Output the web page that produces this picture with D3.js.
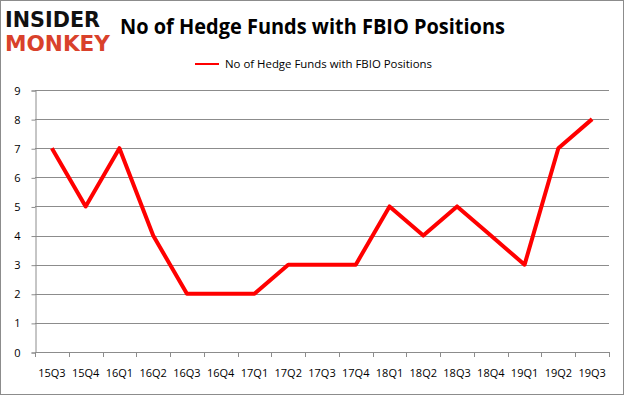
<!DOCTYPE html>
<html>
<head>
<meta charset="utf-8">
<script src="https://cdn.jsdelivr.net/npm/d3@7"></script>
<style>
  body { margin: 0; background: #fff; }
  svg { display: block; }
</style>
</head>
<body>
<div id="chart"></div>
<script>
// quarters on the x axis
var quarters = ["15Q3","15Q4","16Q1","16Q2","16Q3","16Q4","17Q1","17Q2","17Q3",
                "17Q4","18Q1","18Q2","18Q3","18Q4","19Q1","19Q2","19Q3"];
// number of hedge funds holding FBIO
var fundCounts = [7,5,7,4,2,2,2,3,3,3,5,4,5,4,3,7,8];
var yTicks = [0,1,2,3,4,5,6,7,8,9];
var title = "No of Hedge Funds with FBIO Positions";

var width = 626, height = 397;
var plot = {left: 35, right: 609, top: 90, bottom: 352};

var svg = d3.select("#chart").append("svg")
  .attr("width", width)
  .attr("height", height);

svg.append("rect")
  .attr("x", 0.5).attr("y", 0.5)
  .attr("width", width - 3).attr("height", height - 3)
  .attr("fill", "#fff")
  .attr("stroke", "#8c8c8c");

// logo
svg.append("text")
  .attr("x", 5).attr("y", 27)
  .attr("font-family", "DejaVu Sans")
  .attr("font-weight", "bold")
  .attr("font-size", 21)
  .attr("textLength", 95)
  .attr("lengthAdjust", "spacingAndGlyphs")
  .attr("fill", "#111")
  .text("INSIDER");
svg.append("text")
  .attr("x", 5).attr("y", 51)
  .attr("font-family", "DejaVu Sans")
  .attr("font-weight", "bold")
  .attr("font-size", 21)
  .attr("textLength", 105)
  .attr("lengthAdjust", "spacingAndGlyphs")
  .attr("fill", "#d9412b")
  .text("MONKEY");

svg.append("text")
  .attr("x", 120).attr("y", 34)
  .attr("font-family", "Open Sans, sans-serif")
  .attr("font-weight", "bold")
  .attr("font-size", 21)
  .attr("textLength", 385)
  .attr("lengthAdjust", "spacingAndGlyphs")
  .attr("fill", "#000")
  .text(title);

// legend
svg.append("line")
  .attr("x1", 195).attr("x2", 219)
  .attr("y1", 64).attr("y2", 64)
  .attr("stroke", "#ff0000")
  .attr("stroke-width", 2);
svg.append("text")
  .attr("x", 225).attr("y", 68)
  .attr("font-family", "Open Sans, sans-serif")
  .attr("font-size", 11.5)
  .attr("textLength", 207)
  .attr("lengthAdjust", "spacingAndGlyphs")
  .attr("fill", "#000")
  .text(title);

var x = d3.scaleBand()
  .domain(quarters)
  .range([plot.left, plot.right]);

var y = d3.scaleLinear()
  .domain([0, 9])
  .range([plot.bottom, plot.top]);

// gridlines
svg.append("g")
  .selectAll("line")
  .data(yTicks.slice(1))
  .join("line")
  .attr("x1", plot.left).attr("x2", plot.right)
  .attr("y1", function(d) { return Math.round(y(d)) + 0.5; })
  .attr("y2", function(d) { return Math.round(y(d)) + 0.5; })
  .attr("stroke", "#8c8c8c");

var yAxis = svg.append("g")
  .attr("transform", "translate(" + (plot.left + 0.5) + ",0.5)")
  .call(d3.axisLeft(y).tickValues(yTicks).tickSize(4).tickPadding(11)
    .tickFormat(d3.format("d")));
yAxis.select(".domain").attr("stroke", "#8c8c8c");
yAxis.selectAll(".tick line").attr("stroke", "#8c8c8c");
yAxis.selectAll("text")
  .attr("font-family", "Open Sans, sans-serif")
  .attr("font-size", 11)
  .attr("fill", "#000");

// x axis: ticks at band edges
var edges = quarters.map(function(q) { return x(q); }).concat([plot.right]);
var xAxis = svg.append("g");
xAxis.append("line")
  .attr("x1", plot.left).attr("x2", plot.right)
  .attr("y1", plot.bottom + 0.5).attr("y2", plot.bottom + 0.5)
  .attr("stroke", "#8c8c8c");
xAxis.selectAll(".edge")
  .data(edges)
  .join("line")
  .attr("class", "edge")
  .attr("x1", function(d) { return Math.round(d) + 0.5; })
  .attr("x2", function(d) { return Math.round(d) + 0.5; })
  .attr("y1", plot.bottom).attr("y2", plot.bottom + 5)
  .attr("stroke", "#8c8c8c");
xAxis.selectAll("text")
  .data(quarters)
  .join("text")
  .attr("x", function(d) { return x(d) + x.bandwidth() / 2; })
  .attr("y", 377)
  .attr("text-anchor", "middle")
  .attr("font-family", "Open Sans, sans-serif")
  .attr("font-size", 11)
  .attr("fill", "#000")
  .text(function(d) { return d; });

var line = d3.line()
  .x(function(d, i) { return x(quarters[i]) + x.bandwidth() / 2; })
  .y(function(d) { return y(d); });

svg.append("path")
  .datum(fundCounts)
  .attr("d", line)
  .attr("fill", "none")
  .attr("stroke", "#ff0000")
  .attr("stroke-width", 4)
  .attr("stroke-linejoin", "round");
</script>
</body>
</html>
